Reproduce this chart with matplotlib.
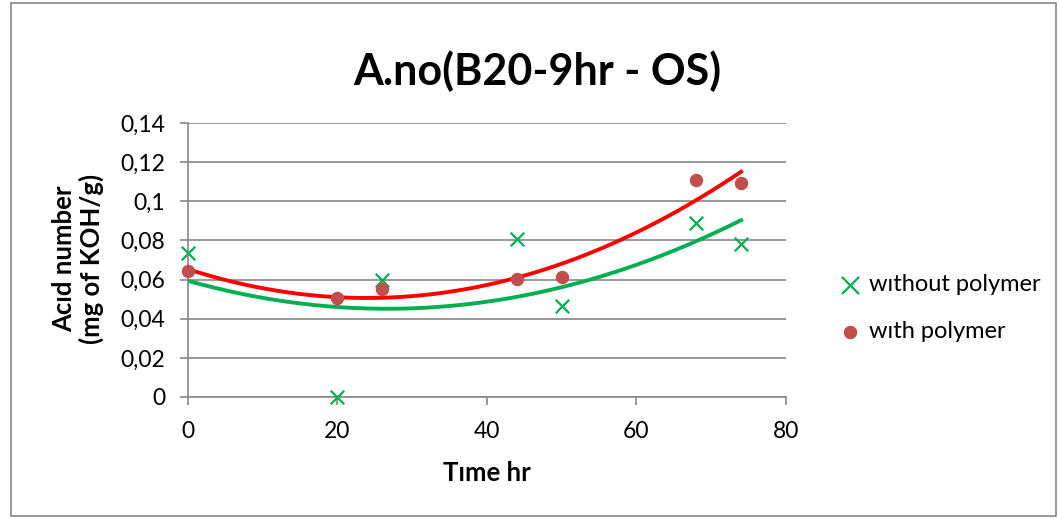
import numpy as np
import matplotlib
matplotlib.use('Agg')
import matplotlib.pyplot as plt
from matplotlib.patches import Rectangle

plt.rcParams['font.family'] = ['Lato', 'DejaVu Sans']

# data
time_hr = [0, 20, 26, 44, 50, 68, 74]
without_polymer = [0.0737, 0.0, 0.0600, 0.0807, 0.0463, 0.0890, 0.0780]
with_polymer = [0.0644, 0.0507, 0.0551, 0.0602, 0.0612, 0.1107, 0.1095]

y_ticks = [0, 0.02, 0.04, 0.06, 0.08, 0.10, 0.12, 0.14]
y_tick_labels = ['0', '0,02', '0,04', '0,06', '0,08', '0,1', '0,12', '0,14']
x_ticks = [0, 20, 40, 60, 80]

fig = plt.figure(figsize=(10.59, 5.18), dpi=100)
ax = fig.add_axes([0.1775, 0.2336, 0.5647, 0.5289])

# outer chart border
fig.patches.append(Rectangle((11 / 1059, 2 / 518), 1045 / 1059, 513 / 518,
                             transform=fig.transFigure, fill=False,
                             edgecolor='#888888', linewidth=1.2))

# polynomial (order 2) trendlines like Excel
xs = np.linspace(0, 74, 200)
fit_green = np.polyfit(time_hr, without_polymer, 2)
fit_red = np.polyfit(time_hr, with_polymer, 2)
ax.plot(xs, np.polyval(fit_green, xs), color='#00B050', linewidth=2.8, zorder=3)
ax.plot(xs, np.polyval(fit_red, xs), color='#FF0000', linewidth=2.8, zorder=3)

ax.scatter(time_hr, without_polymer, marker='x', s=95, color='#00B050',
           linewidths=1.6, zorder=4, clip_on=False, label='wıthout polymer')
ax.scatter(time_hr, with_polymer, marker='o', s=75, color='#C0504D',
           zorder=4, clip_on=False, label='wıth polymer')

ax.set_xlim(0, 80)
ax.set_ylim(0, 0.14)
ax.set_yticks(y_ticks)
ax.set_yticklabels(y_tick_labels)
ax.set_xticks(x_ticks)
ax.yaxis.grid(True, color='#888888', linewidth=1.2)
ax.set_axisbelow(True)
for s in ['top', 'right']:
    ax.spines[s].set_visible(False)
for s in ['left', 'bottom']:
    ax.spines[s].set_color('#888888')
    ax.spines[s].set_linewidth(1.2)
ax.tick_params(axis='both', colors='#888888', length=5.5, width=1.2,
               labelsize=16.5, labelcolor='black')
ax.tick_params(axis='y', pad=11)
ax.tick_params(axis='x', pad=12)

fig.text(487 / 1059, 1 - 481 / 518, 'Tıme hr', fontsize=18.5, fontweight='bold',
         ha='center', va='baseline')
fig.text(78 / 1059, 1 - 259 / 518, 'Acıd number\n(mg of KOH/g)', fontsize=18.5,
         fontweight='bold', rotation=90, ha='center', va='center',
         multialignment='center', linespacing=1.1)
fig.text(537 / 1059, 1 - 85 / 518, 'A.no(B20-9hr - OS)', fontsize=31,
         fontweight='bold', ha='center', va='baseline')

leg = ax.legend(loc='center left', bbox_to_anchor=(836 / 1059, 1 - 308 / 518),
                bbox_transform=fig.transFigure, frameon=False, fontsize=17,
                handlelength=1.2, handletextpad=0.2, labelspacing=1.1,
                borderpad=0, borderaxespad=0)
leg.legend_handles[0].set_sizes([150])

fig.savefig('out.png', dpi=100)
